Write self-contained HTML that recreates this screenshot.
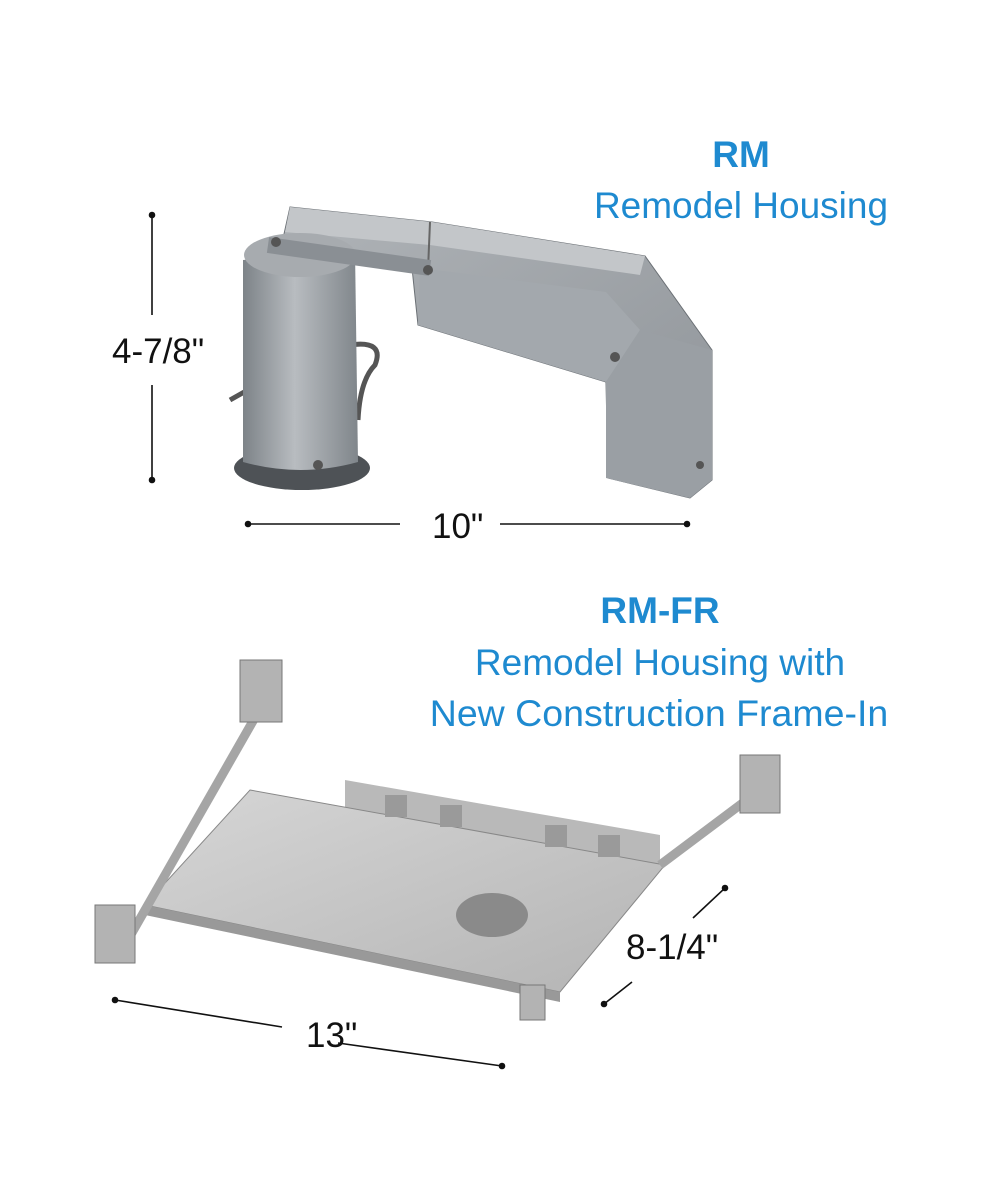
<!DOCTYPE html>
<html><head><meta charset="utf-8"><style>
html,body{margin:0;padding:0;background:#fff;}
svg{display:block;}
</style></head><body>
<svg width="1000" height="1200" viewBox="0 0 1000 1200" xmlns="http://www.w3.org/2000/svg" font-family="Liberation Sans, Arial, sans-serif">
<defs>
<linearGradient id="cyl" x1="0" x2="1" y1="0" y2="0">
<stop offset="0" stop-color="#7d8388"/><stop offset="0.45" stop-color="#b8bcc0"/><stop offset="1" stop-color="#80868b"/>
</linearGradient>
<linearGradient id="arm" x1="0" x2="1" y1="0" y2="1">
<stop offset="0" stop-color="#b0b4b8"/><stop offset="1" stop-color="#8e9398"/>
</linearGradient>
<linearGradient id="plate" x1="0" x2="1" y1="0" y2="1">
<stop offset="0" stop-color="#d6d6d6"/><stop offset="1" stop-color="#b4b4b4"/>
</linearGradient>
</defs>

<g fill="#1e8ad0" text-anchor="middle">
<text x="741" y="167" font-size="37" font-weight="bold">RM</text>
<text x="741" y="218" font-size="37">Remodel Housing</text>
<text x="660" y="623" font-size="37" font-weight="bold">RM-FR</text>
<text x="660" y="675" font-size="37">Remodel Housing with</text>
<text x="659" y="726" font-size="37.5">New Construction Frame-In</text>
</g>

<g>
<path d="M230 400 Q300 360 350 345 Q385 340 375 365 Q360 380 358 420" fill="none" stroke="#555" stroke-width="5"/>
<path d="M330 380 Q320 420 325 460" fill="none" stroke="#6a6e72" stroke-width="12"/>
<polygon points="290,207 432,222 645,256 712,350 712,480 690,498 608,478 606,382 418,325 412,268 280,252" fill="url(#arm)" stroke="#6b7075" stroke-width="1"/>
<polygon points="420,268 606,292 640,330 606,382 418,325" fill="#a3a8ad"/>
<polygon points="640,330 712,350 712,480 690,498 606,478 606,382" fill="#9a9fa4"/>
<polygon points="290,207 432,222 645,256 640,275 430,245 285,232" fill="#c3c6c9"/>
<line x1="430" y1="222" x2="428" y2="270" stroke="#666" stroke-width="2"/>
<ellipse cx="302" cy="468" rx="68" ry="22" fill="#4e5256"/>
<path d="M243 260 L355 250 L358 462 Q300 478 243 462 Z" fill="url(#cyl)"/>
<ellipse cx="300" cy="255" rx="56" ry="22" fill="#a7abaf"/>
<line x1="268" y1="245" x2="430" y2="268" stroke="#8a8f94" stroke-width="16"/>
<g fill="#555"><circle cx="276" cy="242" r="5"/><circle cx="428" cy="270" r="5"/><circle cx="615" cy="357" r="5"/><circle cx="318" cy="465" r="5"/><circle cx="700" cy="465" r="4"/></g>
</g>

<g stroke="#111" stroke-width="1.6" fill="#111">
<line x1="152" y1="215" x2="152" y2="315"/><line x1="152" y1="385" x2="152" y2="480"/>
<circle cx="152" cy="215" r="2.5"/><circle cx="152" cy="480" r="2.5"/>
<line x1="248" y1="524" x2="400" y2="524"/><line x1="500" y1="524" x2="687" y2="524"/>
<circle cx="248" cy="524" r="2.5"/><circle cx="687" cy="524" r="2.5"/>
<line x1="115" y1="1000" x2="282" y2="1027"/><line x1="338" y1="1043" x2="502" y2="1066"/>
<circle cx="115" cy="1000" r="2.5"/><circle cx="502" cy="1066" r="2.5"/>
<line x1="725" y1="888" x2="693" y2="918"/><line x1="632" y1="982" x2="604" y2="1004"/>
<circle cx="725" cy="888" r="2.5"/><circle cx="604" cy="1004" r="2.5"/>
</g>
<g fill="#111" font-size="35">
<text x="112" y="363">4-7/8"</text>
<text x="432" y="538">10"</text>
<text x="306" y="1047">13"</text>
<text x="626" y="959">8-1/4"</text>
</g>

<g>
<polygon points="345,780 660,835 660,870 345,815" fill="#b9b9b9"/>
<polygon points="250,790 665,865 560,992 145,905" fill="url(#plate)" stroke="#888"/>
<polygon points="145,905 560,992 560,1002 145,915" fill="#999"/>
<ellipse cx="492" cy="915" rx="36" ry="22" fill="#8a8a8a"/>
<g fill="#9a9a9a"><rect x="385" y="795" width="22" height="22"/><rect x="440" y="805" width="22" height="22"/><rect x="545" y="825" width="22" height="22"/><rect x="598" y="835" width="22" height="22"/></g>
<line x1="265" y1="700" x2="125" y2="945" stroke="#a5a5a5" stroke-width="9"/>
<line x1="660" y1="865" x2="760" y2="790" stroke="#a5a5a5" stroke-width="9"/>
<g fill="#b3b3b3" stroke="#777">
<rect x="240" y="660" width="42" height="62"/>
<rect x="95" y="905" width="40" height="58"/>
<rect x="740" y="755" width="40" height="58"/>
<rect x="520" y="985" width="25" height="35"/>
</g>
</g>
</svg>
</body></html>
